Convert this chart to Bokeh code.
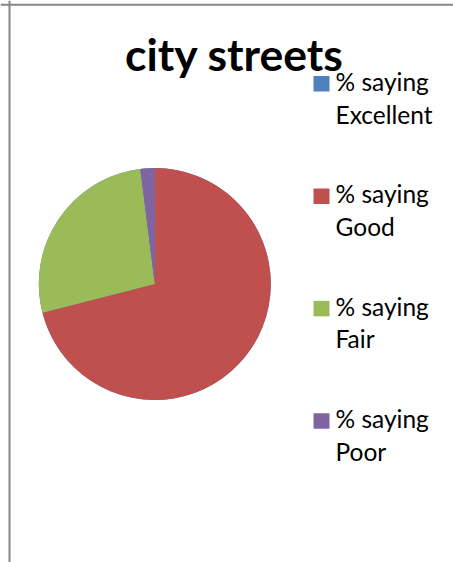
import math
from bokeh.plotting import figure
from bokeh.models import Range1d, ColumnDataSource, Span
from bokeh.core.properties import value
from bokeh.embed import file_html
from bokeh.resources import INLINE

# ---- data ----
title_text = "city streets"
categories = ["Excellent", "Good", "Fair", "Poor"]
percent_values = [0, 71, 27, 2]
prefix_label = "% saying"
colors = ["#4F81BD", "#C0504D", "#9BBB59", "#8064A2"]

# ---- geometry (1 data unit = 1 px, page coordinates) ----
W, H = 453, 562
p = figure(width=W, height=H, output_backend="svg", toolbar_location=None,
           x_range=Range1d(0, W), y_range=Range1d(0, H),
           min_border=0, outline_line_color=None)
p.axis.visible = False
p.grid.visible = False
p.background_fill_color = "white"
p.border_fill_color = "white"

def py(page_y):
    return H - page_y

# pie
total = sum(percent_values)
starts, ends = [], []
cum = 0.0
for v in percent_values:
    starts.append(math.pi / 2 - 2 * math.pi * cum / total)
    cum += v
    ends.append(math.pi / 2 - 2 * math.pi * cum / total)

src = ColumnDataSource(dict(cat=categories, val=percent_values, start=starts,
                            end=ends, color=colors))
p.wedge(x=154.3, y=py(283.5), radius=116, start_angle="start", end_angle="end",
        direction="clock", fill_color="color", line_color=None, source=src)

# title
p.text(x=[234], y=[py(53)], text=[title_text], text_font=value("Lato"),
       text_font_style="bold", text_font_size="44.5px", text_align="center",
       text_baseline="alphabetic", text_color="black")

# legend
step = 112.4
n = len(categories)
sq_y = [py(83.3 + i * step) for i in range(n)]
l1_y = [py(81 + i * step) for i in range(n)]
l2_y = [py(113.5 + i * step) for i in range(n)]
p.rect(x=[321] * n, y=sq_y, width=16, height=15.5, fill_color=colors, line_color=None)
p.text(x=[335] * n, y=l1_y, text=[prefix_label] * n, text_font=value("Lato"),
       text_font_size="24.5px", text_baseline="alphabetic", text_color="black")
p.text(x=[335] * n, y=l2_y, text=categories, text_font=value("Lato"),
       text_font_size="24.5px", text_baseline="alphabetic", text_color="black")

# chart-area border (left and top)
p.add_layout(Span(location=9, dimension="height", line_color="#868686", line_width=2))
p.add_layout(Span(location=py(4.3), dimension="width", line_color="#868686", line_width=2))

open("out.html", "w").write(file_html(p, INLINE))
